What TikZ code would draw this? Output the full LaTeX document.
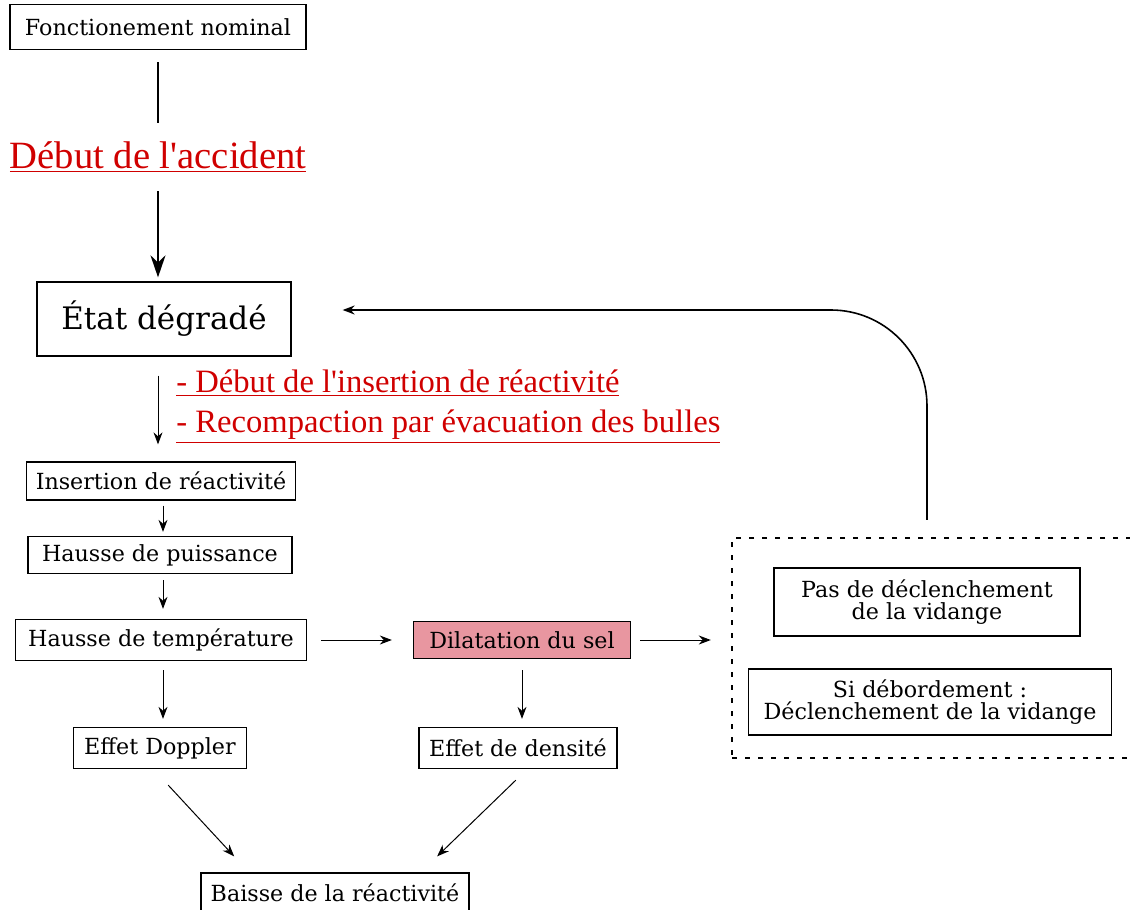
\documentclass[tikz,border=0pt]{standalone}
\usepackage{fontspec}
\setmainfont{DejaVu Serif}
\newfontfamily\redfont{Liberation Serif}
\usetikzlibrary{arrows.meta}
\definecolor{accred}{RGB}{208,0,0}
\definecolor{selpink}{RGB}{232,150,160}

\begin{document}
\begin{tikzpicture}[x=0.5pt,y=-0.5pt,
    box/.style={draw=black,line width=0.65pt,inner sep=2pt,font=\fontsize{11.1}{11.1}\selectfont,align=center},
    redtxt/.style={text=accred,inner sep=0pt,font=\redfont\fontsize{16.3}{18}\selectfont},
    thinarr/.style={-{Stealth[length=6pt,width=4.5pt]},line width=0.5pt},
    bigarr/.style={-{Stealth[length=11pt,width=7.5pt]},line width=1pt}]
    \useasboundingbox (0,0) rectangle (1130,910);

    \node[box,minimum width=148pt,minimum height=22.5pt] (fonct) at (158,27) {Fonctionement nominal};
    \node[redtxt,font=\redfont\fontsize{19.3}{22}\selectfont] (accident) at (158,157) {\underline{Début de l'accident}};

    \node[box,minimum width=127pt,minimum height=37pt,font=\fontsize{15.5}{15.5}\selectfont] (etat) at (164,319) {État dégradé};
    \node[redtxt,anchor=west] (debins) at (176,383) {\underline{- Début de l'insertion de réactivité}};
    \node[redtxt,anchor=west] (recomp) at (176,427) {\underline{- Recompaction par évacuation des bulles}};

    \node[box,minimum width=134.5pt,minimum height=19pt] (insert) at (161,481) {Insertion de réactivité};
    \node[box,minimum width=132pt,minimum height=18.5pt] (puiss) at (160,555) {Hausse de puissance};
    \node[box,minimum width=145.5pt,minimum height=20.5pt] (temp) at (161,640) {Hausse de température};
    \node[box,fill=selpink,minimum width=108.5pt,minimum height=18.5pt] (dilat) at (522,640) {Dilatation du sel};

    \node[box,minimum width=86.5pt,minimum height=20.5pt] (doppler) at (160,748) {Effet Doppler};
    \node[box,minimum width=99pt,minimum height=20.5pt] (densite) at (518,748) {Effet de densité};
    \node[box,minimum width=134pt,minimum height=20pt] (baisse) at (335,893) {Baisse de la réactivité};

    % zone de la vidange
    \node[draw=black,line width=1.2pt,dash pattern=on 2.5pt off 4pt,minimum width=204pt,minimum height=110pt] (vidange) at (936,648) {};
    \node[box,minimum width=153pt,minimum height=34pt] (pasdecl) at (927,602) {Pas de déclenchement\\de la vidange};
    \node[box,minimum width=181.5pt,minimum height=33pt] (sidebord) at (930,702) {Si débordement :\\Déclenchement de la vidange};

    \draw[line width=0.65pt,shorten <=6pt,shorten >=9pt] (fonct.south) -- (accident.north);
    \draw[bigarr,shorten <=9pt,shorten >=2pt] (accident.south) -- (etat.north -| accident);
    \draw[thinarr,shorten <=9.5pt,shorten >=8.5pt] (etat.south -| accident) -- (insert.north -| accident);
    \draw[thinarr,shorten <=2.5pt,shorten >=2pt] (insert.south -| 163,0) -- (puiss.north -| 163,0);
    \draw[thinarr,shorten <=3pt,shorten >=5pt] (puiss.south -| 163,0) -- (temp.north -| 163,0);
    \draw[thinarr,shorten <=7pt,shorten >=10.5pt] (temp.east) -- (dilat.west);
    \draw[thinarr,shorten <=4.5pt,shorten >=10pt] (dilat.east) -- (vidange.west |- dilat);
    \draw[thinarr,shorten <=4.5pt,shorten >=4pt] (temp.south -| 163,0) -- (doppler.north -| 163,0);
    \draw[thinarr,shorten <=5.5pt,shorten >=4pt] (dilat.south) -- (densite.north -| dilat);
    \draw[thinarr,shorten <=10.9pt,shorten >=10.9pt] ([xshift=-3.3pt]doppler.south) -- ([xshift=-43pt]baisse.north);
    \draw[thinarr,shorten <=7.9pt,shorten >=11.5pt] ([xshift=4.6pt]densite.south) -- ([xshift=42.8pt]baisse.north);

    \draw[thinarr,line width=0.8pt,rounded corners=48pt,shorten <=8.5pt,shorten >=25.5pt] (vidange.north -| pasdecl) |- ([yshift=4.5pt]etat.east);
\end{tikzpicture}
\end{document}
